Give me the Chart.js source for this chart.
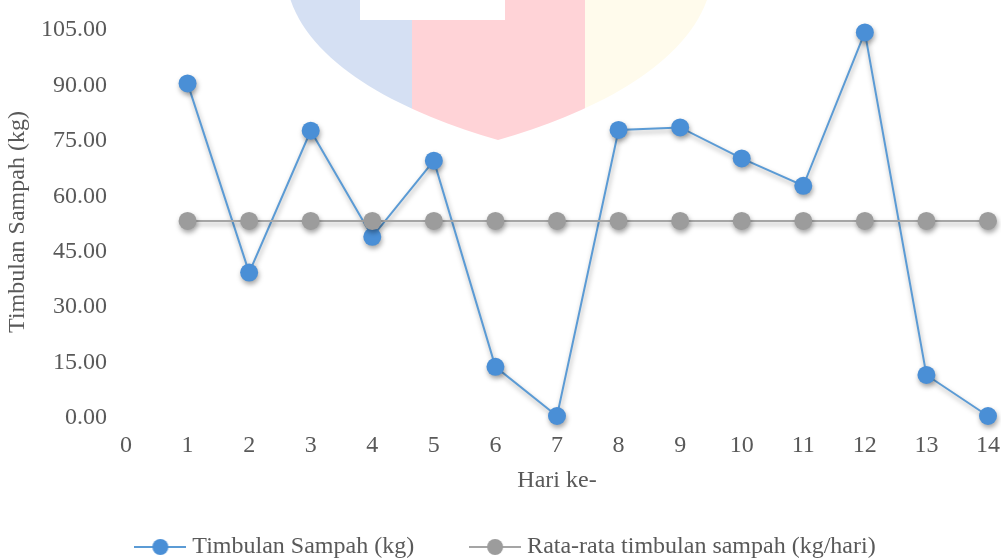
<!DOCTYPE html>
<html>
<head>
<meta charset="utf-8">
<script src="https://cdn.jsdelivr.net/npm/chart.js@4.4.1/dist/chart.umd.min.js"></script>
<style>
  html, body { margin: 0; padding: 0; background: #ffffff; overflow: hidden; }
  #wrap { width: 1001px; height: 558px; position: relative; }
</style>
</head>
<body>
<div id="wrap"><canvas id="chart" width="1001" height="558"></canvas></div>
<script>
// Daily waste generation over 14 days, plus the daily average
const hariKe = [1, 2, 3, 4, 5, 6, 7, 8, 9, 10, 11, 12, 13, 14];
const timbulanSampah = [90.0, 38.8, 77.2, 48.5, 69.1, 13.3, 0.0, 77.4, 78.1, 69.7, 62.3, 103.8, 11.1, 0.0];
const rataRata = [52.8, 52.8, 52.8, 52.8, 52.8, 52.8, 52.8, 52.8, 52.8, 52.8, 52.8, 52.8, 52.8, 52.8];
const xTickValues = [0, 1, 2, 3, 4, 5, 6, 7, 8, 9, 10, 11, 12, 13, 14];
const yTickValues = [0, 15, 30, 45, 60, 75, 90, 105];

const seriesNames = ['Timbulan Sampah (kg)', 'Rata-rata timbulan sampah (kg/hari)'];

const BLUE_LINE = '#5b9bd5', BLUE_DOT = '#4a8fd6';
const GRAY_LINE = '#a5a5a5', GRAY_DOT = '#9c9c9c';
const TEXT = '#595959';

Chart.defaults.font.family = "'Liberation Serif', 'Times New Roman', serif";
Chart.defaults.font.size = 24;
Chart.defaults.color = TEXT;

// Legend swatch: short line with a dot in the middle
function legendMarker(lineColor, dotColor) {
  const c = document.createElement('canvas');
  c.width = 52; c.height = 20;
  const g = c.getContext('2d');
  g.strokeStyle = lineColor; g.lineWidth = 2;
  g.beginPath(); g.moveTo(0, 10); g.lineTo(52, 10); g.stroke();
  g.fillStyle = dotColor;
  g.beginPath(); g.arc(26, 10, 8, 0, Math.PI * 2); g.fill();
  return c;
}
const legendSwatches = [legendMarker(BLUE_LINE, BLUE_DOT), legendMarker(GRAY_LINE, GRAY_DOT)];

// Faint shield emblem behind the plot
const shieldWatermark = {
  id: 'shieldWatermark',
  beforeDraw(chart) {
    const ctx = chart.ctx;
    ctx.save();
    ctx.fillStyle = '#ffffff';
    ctx.fillRect(0, 0, chart.width, chart.height);
    ctx.beginPath();
    ctx.moveTo(286, -20);
    ctx.bezierCurveTo(296, 60, 400, 112, 498, 140);
    ctx.bezierCurveTo(596, 112, 700, 60, 712, -20);
    ctx.closePath();
    ctx.clip();
    ctx.fillStyle = '#d5e0f3'; ctx.fillRect(250, -20, 162, 180);
    ctx.fillStyle = '#ffd3d7'; ctx.fillRect(412, -20, 173, 180);
    ctx.fillStyle = '#fffbec'; ctx.fillRect(585, -20, 170, 180);
    ctx.restore();
    ctx.save();
    ctx.fillStyle = '#ffffff';
    ctx.fillRect(360, 0, 145, 20);
    ctx.restore();
  }
};

// Soft drop shadow under lines and markers
const markerShadow = {
  id: 'markerShadow',
  beforeDatasetDraw(chart) {
    const ctx = chart.ctx;
    ctx.save();
    ctx.shadowColor = 'rgba(0,0,0,0.35)';
    ctx.shadowBlur = 5;
    ctx.shadowOffsetX = 1;
    ctx.shadowOffsetY = 3;
  },
  afterDatasetDraw(chart) {
    chart.ctx.restore();
  }
};

new Chart(document.getElementById('chart'), {
  type: 'line',
  data: {
    datasets: [
      {
        label: seriesNames[0],
        data: hariKe.map((x, i) => ({ x, y: timbulanSampah[i] })),
        borderColor: BLUE_LINE,
        backgroundColor: BLUE_DOT,
        borderWidth: 2,
        pointRadius: 9,
        pointBackgroundColor: BLUE_DOT,
        pointBorderColor: BLUE_DOT,
        pointBorderWidth: 0,
        tension: 0,
        clip: false,
        order: 1
      },
      {
        label: seriesNames[1],
        data: hariKe.map((x, i) => ({ x, y: rataRata[i] })),
        borderColor: GRAY_LINE,
        backgroundColor: GRAY_DOT,
        borderWidth: 2,
        pointRadius: 9,
        pointBackgroundColor: GRAY_DOT,
        pointBorderColor: GRAY_DOT,
        pointBorderWidth: 0,
        tension: 0,
        clip: false,
        order: 0
      }
    ]
  },
  options: {
    responsive: false,
    animation: false,
    devicePixelRatio: 1,
    layout: { padding: { top: 28, right: 13, bottom: -11, left: 28 } },
    plugins: {
      tooltip: { enabled: false },
      legend: {
        position: 'bottom',
        labels: {
          usePointStyle: true,
          pointStyleWidth: 40,
          padding: 61,
          color: TEXT,
          font: { size: 24 },
          sort: (a, b) => a.datasetIndex - b.datasetIndex,
          generateLabels(chart) {
            const items = Chart.defaults.plugins.legend.labels.generateLabels(chart);
            items.forEach(it => { it.pointStyle = legendSwatches[it.datasetIndex]; });
            return items;
          }
        }
      }
    },
    scales: {
      x: {
        type: 'linear',
        min: 0,
        max: 14,
        afterBuildTicks(scale) { scale.ticks = xTickValues.map(v => ({ value: v })); },
        afterFit(scale) {
          scale.height = 58;
          scale.paddingLeft = 0;
          scale.paddingRight = 0;
        },
        grid: { display: false, drawTicks: false },
        border: { display: false },
        ticks: { padding: 15, color: TEXT, callback: v => String(v) },
        title: {
          display: true,
          text: 'Hari ke-',
          color: TEXT,
          font: { size: 24 },
          padding: { top: 0, bottom: -21 }
        }
      },
      y: {
        type: 'linear',
        min: 0,
        max: 105,
        afterBuildTicks(scale) { scale.ticks = yTickValues.map(v => ({ value: v })); },
        afterFit(scale) {
          scale.width = 98;
          scale.paddingTop = 0;
          scale.paddingBottom = 0;
        },
        grid: { display: false, drawTicks: false },
        border: { display: false },
        ticks: { padding: 19, labelOffset: 2, color: TEXT, callback: v => Number(v).toFixed(2) },
        title: {
          display: true,
          text: 'Timbulan Sampah (kg)',
          color: TEXT,
          font: { size: 24, lineHeight: 0.5 },
          padding: { top: -16, bottom: 0 }
        }
      }
    }
  },
  plugins: [shieldWatermark, markerShadow]
});
</script>
</body>
</html>
